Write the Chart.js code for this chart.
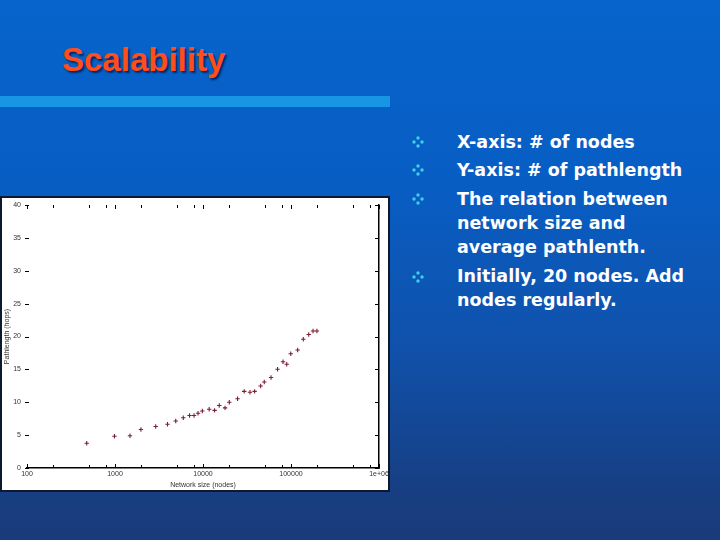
<!DOCTYPE html>
<html><head><meta charset="utf-8">
<script src="https://cdn.jsdelivr.net/npm/chart.js@4.4.0/dist/chart.umd.min.js"></script>
<style>
html,body{margin:0;padding:0;width:720px;height:540px;overflow:hidden}
body{background:linear-gradient(180deg,#0664cc 0%,#085dc3 35%,#1051aa 65%,#173f84 90%,#1a3a78 100%);position:relative;font-family:"DejaVu Sans",sans-serif}
#title{position:absolute;left:62px;top:40px;font:bold 33px/40px "Liberation Sans";color:#ff4e1c;text-shadow:2px 2px 2px rgba(0,0,40,0.6)}
#bar{position:absolute;left:0;top:96px;width:390px;height:11px;background:#1896e6}
#panel{position:absolute;left:0;top:196px;width:386px;height:292px;background:#fff;border:2px solid #0d1a2e}
#panel canvas{display:block}
.para{position:absolute;left:457px;color:#fff;font:bold 17.5px/24px "DejaVu Sans";white-space:nowrap}
.bul{position:absolute;left:412px;width:12px;height:12px}
</style></head><body>
<div id="title">Scalability</div>
<div id="bar"></div>
<div id="panel"><div style="position:relative;width:386px;height:292px"><canvas id="c"></canvas></div></div>

<svg class="bul" style="top:136px" viewBox="0 0 12 12"><g fill="#3fd0ea"><circle cx="6" cy="2" r="1.7"/><circle cx="2" cy="6" r="1.7"/><circle cx="10" cy="6" r="1.7"/><circle cx="6" cy="10" r="1.7"/></g></svg>
<svg class="bul" style="top:164px" viewBox="0 0 12 12"><g fill="#3fd0ea"><circle cx="6" cy="2" r="1.7"/><circle cx="2" cy="6" r="1.7"/><circle cx="10" cy="6" r="1.7"/><circle cx="6" cy="10" r="1.7"/></g></svg>
<svg class="bul" style="top:193px" viewBox="0 0 12 12"><g fill="#3fd0ea"><circle cx="6" cy="2" r="1.7"/><circle cx="2" cy="6" r="1.7"/><circle cx="10" cy="6" r="1.7"/><circle cx="6" cy="10" r="1.7"/></g></svg>
<svg class="bul" style="top:271px" viewBox="0 0 12 12"><g fill="#3fd0ea"><circle cx="6" cy="2" r="1.7"/><circle cx="2" cy="6" r="1.7"/><circle cx="10" cy="6" r="1.7"/><circle cx="6" cy="10" r="1.7"/></g></svg>

<div class="para" style="top:130px">X-axis: # of nodes</div>
<div class="para" style="top:158px">Y-axis: # of pathlength</div>
<div class="para" style="top:187px">The relation between<br>network size and<br>average pathlenth.</div>
<div class="para" style="top:264px">Initially, 20 nodes. Add<br>nodes regularly.</div>

<script>
// Data
const nodes = [477, 986, 1480, 1970, 2900, 3950, 4900, 5970, 7030, 7910, 8780, 9820, 11750, 13540, 15300, 17800, 19900, 24700, 29400, 34200, 38600, 45200, 49700, 59300, 70300, 81200, 89400, 99300, 119000, 138000, 159000, 178000, 197000];
const pathLength = [3.76, 4.84, 4.90, 5.86, 6.31, 6.65, 7.15, 7.64, 7.98, 7.98, 8.32, 8.67, 8.93, 8.77, 9.50, 9.15, 10.01, 10.54, 11.65, 11.51, 11.66, 12.47, 13.08, 13.77, 15.01, 16.17, 15.77, 17.38, 17.95, 19.58, 20.30, 20.84, 20.84];
const xTickValues = [100, 200, 500, 800, 1000, 2000, 5000, 8000, 10000, 20000, 50000, 80000, 100000, 200000, 500000, 800000, 1000000];
const xLabelValues = [100, 1000, 10000, 100000, 1000000];
const xLabelText = ['100', '1000', '10000', '100000', '1e+06'];
const yTickValues = [0, 5, 10, 15, 20, 25, 30, 35, 40];

const innerTicks = {
  id: 'innerTicks',
  afterDraw(chart) {
    const {ctx, chartArea: a, scales: {x, y}} = chart;
    ctx.save();
    ctx.strokeStyle = '#000';
    ctx.lineWidth = 1;
    ctx.beginPath();
    x.ticks.forEach(t => {
      const px = Math.round(x.getPixelForValue(t.value)) + 0.5;
      const L = xLabelValues.includes(t.value) ? 4 : 3;
      ctx.moveTo(px, a.bottom); ctx.lineTo(px, a.bottom - L);
      ctx.moveTo(px, a.top); ctx.lineTo(px, a.top + L);
    });
    y.ticks.forEach(t => {
      const py = Math.round(y.getPixelForValue(t.value)) + 0.5;
      ctx.moveTo(a.left - 2, py); ctx.lineTo(a.left + 2, py);
      ctx.moveTo(a.right, py); ctx.lineTo(a.right - 4, py);
    });
    ctx.stroke();
    ctx.restore();
  }
};

const tickFont = {family: 'Liberation Sans', size: 7};

new Chart(document.getElementById('c'), {
  type: 'scatter',
  data: {
    datasets: [{
      data: nodes.map((n, i) => ({x: n, y: pathLength[i]})),
      pointStyle: 'cross',
      pointRadius: 2.2,
      pointBorderWidth: 1.1,
      borderColor: '#7b1f35',
      backgroundColor: '#7b1f35',
      showLine: false
    }]
  },
  options: {
    responsive: true,
    maintainAspectRatio: false,
    animation: false,
    layout: {padding: {top: 7, left: 0, right: 0, bottom: 0}},
    plugins: {legend: {display: false}, tooltip: {enabled: false}},
    scales: {
      x: {
        type: 'logarithmic',
        min: 100, max: 1000000,
        afterBuildTicks: s => { s.ticks = xTickValues.map(v => ({value: v})); },
        afterFit: s => { s.height = 22; s.paddingLeft = 0; s.paddingRight = 0; },
        grid: {display: false, drawTicks: false},
        border: {display: true, color: '#000', width: 1.5},
        ticks: {
          autoSkip: false, maxRotation: 0, padding: 2, font: tickFont, color: '#333',
          callback: v => { const i = xLabelValues.indexOf(v); return i >= 0 ? xLabelText[i] : ''; }
        },
        title: {display: true, text: 'Network size (nodes)', font: {family: 'Liberation Sans', size: 7}, color: '#333', padding: {top: 0, bottom: 1}}
      },
      y: {
        min: 0, max: 40,
        afterBuildTicks: s => { s.ticks = yTickValues.map(v => ({value: v})); },
        afterFit: s => { s.width = 25; s.paddingTop = 0; s.paddingBottom = 0; },
        grid: {display: false, drawTicks: false},
        border: {display: false},
        ticks: {padding: 6, font: tickFont, color: '#333'},
        title: {display: true, text: 'Pathlength (hops)', font: {family: 'Liberation Sans', size: 7}, color: '#333', padding: {top: 1, bottom: 0}}
      },
      y2: {
        position: 'right',
        min: 0, max: 40,
        afterFit: s => { s.width = 9; s.paddingTop = 0; s.paddingBottom = 0; },
        grid: {display: false, drawTicks: false},
        border: {display: true, color: '#000', width: 1.5},
        ticks: {display: false}
      }
    }
  },
  plugins: [innerTicks]
});
</script>
</body></html>
